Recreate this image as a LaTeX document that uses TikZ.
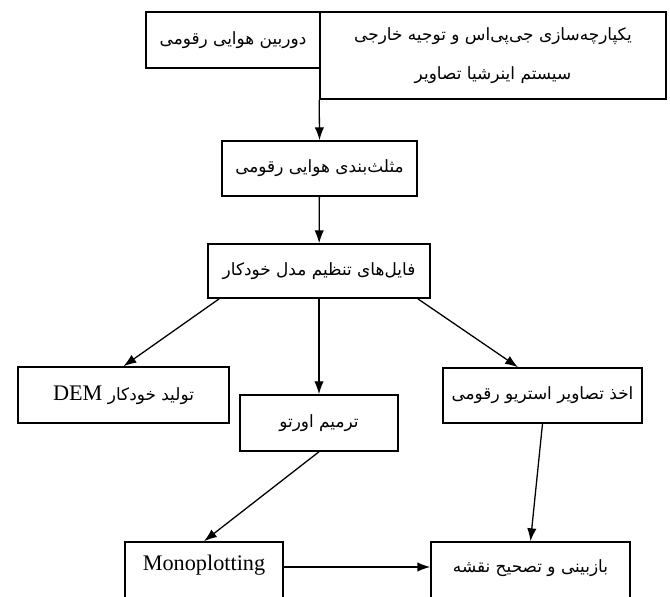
\documentclass[tikz,border=0pt]{standalone}
\usepackage{fontspec}
\setmainfont{Liberation Serif}
\newfontfamily\farsifont[Script=Arabic,Scale=0.76]{DejaVu Sans}
\TeXXeTstate=1
\usepackage{tikz}
\usetikzlibrary{calc,arrows.meta}
\newcommand{\fa}[1]{{\farsifont\beginR #1\endR}}

\begin{document}
\begin{tikzpicture}[x=0.03cm,y=-0.03cm,line width=1.3pt,
  box/.style={draw,inner sep=0pt,font=\fontsize{19}{23}\selectfont},
  flow/.style={-{Latex[length=11pt,width=8pt]},line width=1.1pt}]
\useasboundingbox (0,0) rectangle (670,597);
\node[box,minimum width=174*0.03cm,minimum height=56*0.03cm] (cam) at (233,40) {\fa{دوربین هوایی رقومی}};
\node[box,minimum width=346*0.03cm,minimum height=87*0.03cm,align=center] (gps) at (493,55.5) {\fa{یکپارچه‌سازی جی‌پی‌اس و توجیه خارجی}\\[10pt]\fa{سیستم اینرشیا تصاویر}};
\node[box,minimum width=195*0.03cm,minimum height=55*0.03cm] (triang) at (319.5,168.5) {\fa{مثلث‌بندی هوایی رقومی}};
\node[box,minimum width=222*0.03cm,minimum height=54*0.03cm] (files) at (319,271) {\fa{فایل‌های تنظیم مدل خودکار}};
\node[box,minimum width=211*0.03cm,minimum height=56*0.03cm] (dem) at (123.5,395) {\fa{تولید خودکار \beginL{\normalfont DEM}\endL}};
\node[box,minimum width=158*0.03cm,minimum height=56*0.03cm] (ortho) at (319,423) {\fa{ترمیم اورتو}};
\node[box,minimum width=199*0.03cm,minimum height=55*0.03cm] (stereo) at (542.5,395.5) {\fa{اخذ تصاویر استریو رقومی}};
\node[box,minimum width=158*0.03cm,minimum height=60*0.03cm,text depth=16pt] (mono) at (204,572) {Monoplotting};
\node[box,minimum width=199*0.03cm,minimum height=60*0.03cm,text depth=10pt] (review) at (530.5,572) {\fa{بازبینی و تصحیح نقشه}};
% connectors
\draw[flow] (gps.south west) -- (triang.north);
\draw[flow] (triang) -- (files);
\draw[flow] ($(files.south west)+(12,0)$) -- (dem.north);
\draw[flow] (files) -- (ortho);
\draw[flow] ($(files.south east)+(-13,0)$) -- ($(stereo.north)+(-24.5,0)$);
\draw[flow] (ortho.south) -- (mono.north);
\draw[flow] (stereo.south) -- (review.north);
\draw[flow] ($(mono.east)+(0,-5)$) -- ($(review.west)+(0,-5)$);
\end{tikzpicture}
\end{document}
